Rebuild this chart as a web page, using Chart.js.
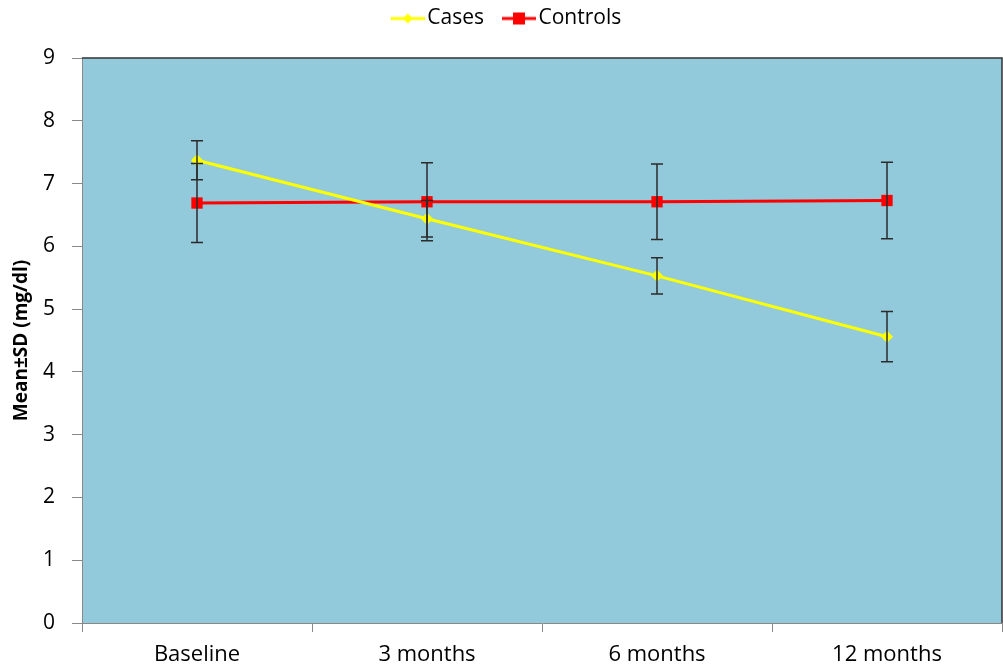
<!DOCTYPE html>
<html lang="en">
<head>
    <meta charset="UTF-8">
    <title>Mean SD chart</title>
    <script src="https://cdn.jsdelivr.net/npm/chart.js"></script>
    <style>
        body {
            margin: 0;
            background: white;
            overflow: hidden;
        }
        .wrap {
            width: 1003px;
            height: 672px;
        }
    </style>
</head>
<body>
    <div class="wrap">
        <canvas id="sdChart"></canvas>
    </div>

    <script>
        // data
        const labels = ['Baseline', '3 months', '6 months', '12 months'];
        const casesMean = [7.37, 6.44, 5.53, 4.56];
        const casesSD = [0.31, 0.29, 0.29, 0.40];
        const controlsMean = [6.69, 6.71, 6.71, 6.73];
        const controlsSD = [0.63, 0.62, 0.60, 0.61];
        const yTicks = [0, 1, 2, 3, 4, 5, 6, 7, 8, 9];

        // legend swatch: line with marker, transparent gap on the left
        function makeSwatch(color, shape) {
            const c = document.createElement('canvas');
            c.width = 52;
            c.height = 14;
            const g = c.getContext('2d');
            const x0 = 18;
            g.strokeStyle = color;
            g.lineWidth = 3;
            g.beginPath();
            g.moveTo(x0, 7);
            g.lineTo(x0 + 34, 7);
            g.stroke();
            g.fillStyle = color;
            if (shape === 'diamond') {
                g.beginPath();
                g.moveTo(x0 + 17, 2);
                g.lineTo(x0 + 22, 7);
                g.lineTo(x0 + 17, 12);
                g.lineTo(x0 + 12, 7);
                g.closePath();
                g.fill();
            } else {
                g.fillRect(x0 + 11, 1, 12, 12);
            }
            return c;
        }

        // light blue plot area + fixed legend height
        const plotBg = {
            id: 'plotBg',
            beforeUpdate(chart) {
                const lg = chart.legend;
                if (lg && !lg._patched) {
                    const fit = lg.fit;
                    lg.fit = function () {
                        fit.call(this);
                        this.height = 58;
                    };
                    lg._patched = true;
                }
            },
            beforeDraw(chart) {
                const { ctx, chartArea: a } = chart;
                ctx.save();
                ctx.fillStyle = '#92cadc';
                ctx.fillRect(a.left, a.top, a.right - a.left, a.bottom - a.top);
                ctx.restore();
            },
            afterDraw(chart) {
                const { ctx, chartArea: a } = chart;
                ctx.save();
                ctx.strokeStyle = '#333';
                ctx.lineWidth = 1.5;
                ctx.beginPath();
                ctx.moveTo(a.left, a.top);
                ctx.lineTo(a.right, a.top);
                ctx.lineTo(a.right, a.bottom);
                ctx.stroke();
                ctx.restore();
            }
        };

        // error bars from the SD arrays
        const errorBars = {
            id: 'errorBars',
            afterDatasetsDraw(chart) {
                const { ctx } = chart;
                const y = chart.scales.y;
                const sds = [casesSD, controlsSD];
                ctx.save();
                ctx.strokeStyle = '#2b2b2b';
                ctx.lineWidth = 1.5;
                chart.data.datasets.forEach((ds, i) => {
                    const meta = chart.getDatasetMeta(i);
                    meta.data.forEach((pt, j) => {
                        const x = pt.x;
                        const top = y.getPixelForValue(ds.data[j] + sds[i][j]);
                        const bot = y.getPixelForValue(ds.data[j] - sds[i][j]);
                        ctx.beginPath();
                        ctx.moveTo(x, top);
                        ctx.lineTo(x, bot);
                        ctx.moveTo(x - 6, top);
                        ctx.lineTo(x + 6, top);
                        ctx.moveTo(x - 6, bot);
                        ctx.lineTo(x + 6, bot);
                        ctx.stroke();
                    });
                });
                ctx.restore();
            }
        };

        const ctx = document.getElementById('sdChart').getContext('2d');
        const sdChart = new Chart(ctx, {
            type: 'line',
            data: {
                labels: labels,
                datasets: [{
                    label: 'Cases',
                    data: casesMean,
                    borderColor: '#ffff00',
                    backgroundColor: '#ffff00',
                    borderWidth: 3,
                    pointStyle: 'rectRot',
                    pointRadius: 6,
                    pointBorderWidth: 0,
                    tension: 0
                }, {
                    label: 'Controls',
                    data: controlsMean,
                    borderColor: '#ff0000',
                    backgroundColor: '#ff0000',
                    borderWidth: 3,
                    pointStyle: 'rect',
                    pointRadius: 8,
                    pointBorderWidth: 0,
                    tension: 0
                }]
            },
            options: {
                responsive: true,
                maintainAspectRatio: false,
                animation: false,
                layout: {
                    autoPadding: false,
                    padding: { top: 0, right: 1, bottom: 0, left: 0 }
                },
                plugins: {
                    tooltip: { enabled: false },
                    legend: {
                        position: 'top',
                        labels: {
                            usePointStyle: true,
                            pointStyleWidth: 36,
                            generateLabels(chart) {
                                return chart.data.datasets.map((ds, i) => ({
                                    text: ds.label,
                                    pointStyle: makeSwatch(ds.borderColor, i === 0 ? 'diamond' : 'square'),
                                    fillStyle: ds.borderColor,
                                    strokeStyle: ds.borderColor,
                                    lineWidth: 0,
                                    datasetIndex: i
                                }));
                            },
                            color: '#000',
                            font: { family: 'Open Sans', size: 21 },
                            padding: 8
                        }
                    }
                },
                scales: {
                    x: {
                        offset: true,
                        afterFit(axis) {
                            axis.height = 49;
                            axis.paddingLeft = 0;
                            axis.paddingRight = 0;
                        },
                        border: { color: '#888', width: 1 },
                        grid: {
                            offset: true,
                            drawOnChartArea: false,
                            color: '#888',
                            tickLength: 9
                        },
                        ticks: {
                            color: '#000',
                            padding: 10,
                            maxRotation: 0,
                            font: { family: 'Open Sans', size: 22 }
                        }
                    },
                    y: {
                        min: 0,
                        max: 9,
                        afterBuildTicks(axis) {
                            axis.ticks = yTicks.map(v => ({ value: v }));
                        },
                        afterFit(axis) {
                            axis.width = 82;
                        },
                        border: { color: '#888', width: 1 },
                        grid: {
                            drawOnChartArea: false,
                            color: '#888',
                            tickLength: 10
                        },
                        ticks: {
                            color: '#000',
                            padding: 17,
                            font: { family: 'Open Sans', size: 21 }
                        },
                        title: {
                            display: true,
                            text: 'Mean±SD (mg/dl)',
                            color: '#000',
                            padding: { top: 10, bottom: 0 },
                            font: { family: 'Open Sans', size: 19, weight: 'bold' }
                        }
                    }
                }
            },
            plugins: [plotBg, errorBars]
        });
    </script>
</body>
</html>
